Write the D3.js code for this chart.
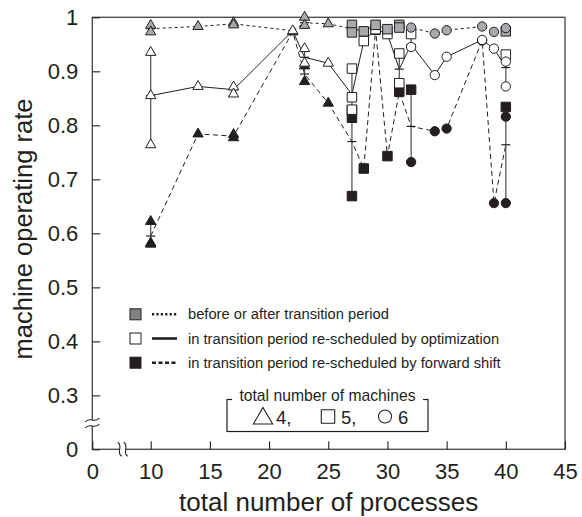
<!DOCTYPE html>
<html>
<head>
<meta charset="utf-8">
<script src="https://cdn.jsdelivr.net/npm/d3@7"></script>
<style>
  body { margin: 0; background: #fff; }
  text { font-family: "Liberation Sans", Arial, sans-serif; fill: #231f20; }
</style>
</head>
<body>
<svg id="chart" width="582" height="517"></svg>
<script>
const xTicks = [0, 10, 15, 20, 25, 30, 35, 40, 45];
const yTicks = [0, 0.3, 0.4, 0.5, 0.6, 0.7, 0.8, 0.9, 1];

// points: [processes, machines, rate]; means: [processes, rate]
const beforeAfterPoints = [
  [10, 4, 0.985], [10, 4, 0.973], [14, 4, 0.983], [17, 4, 0.99], [17, 4, 0.986],
  [23, 4, 1.0], [23, 4, 0.985], [25, 4, 0.988],
  [27, 5, 0.986], [27, 5, 0.972], [28, 5, 0.974], [29, 5, 0.986], [30, 5, 0.978],
  [31, 5, 0.986], [31, 5, 0.981], [40, 5, 0.974],
  [32, 6, 0.981], [34, 6, 0.97], [35, 6, 0.976], [38, 6, 0.983], [39, 6, 0.973], [40, 6, 0.98]
];
const beforeAfterMeans = [
  [10, 0.979], [14, 0.983], [17, 0.988], [22, 0.975], [23, 0.99], [25, 0.988],
  [27, 0.979], [28, 0.974], [29, 0.986], [30, 0.978], [31, 0.983], [32, 0.981],
  [34, 0.97], [35, 0.976], [38, 0.983], [39, 0.973], [40, 0.977]
];

const optimizationPoints = [
  [10, 4, 0.935], [10, 4, 0.855], [10, 4, 0.764], [14, 4, 0.872], [17, 4, 0.871], [17, 4, 0.858],
  [22, 4, 0.975], [23, 4, 0.942], [23, 4, 0.915], [25, 4, 0.915],
  [27, 5, 0.905], [27, 5, 0.852], [27, 5, 0.829], [28, 5, 0.956], [29, 5, 0.978], [30, 5, 0.969],
  [31, 5, 0.933], [31, 5, 0.878], [32, 5, 0.969], [40, 5, 0.931],
  [32, 6, 0.945], [34, 6, 0.893], [35, 6, 0.927], [38, 6, 0.958], [39, 6, 0.942],
  [40, 6, 0.918], [40, 6, 0.872]
];
const optimizationMeans = [
  [10, 0.855], [14, 0.872], [17, 0.866], [22, 0.975], [23, 0.926], [25, 0.915],
  [27, 0.857], [28, 0.956], [29, 0.978], [30, 0.969], [31, 0.904], [32, 0.95],
  [34, 0.893], [35, 0.927], [38, 0.958], [39, 0.942], [40, 0.907]
];

const forwardShiftPoints = [
  [10, 4, 0.622], [10, 4, 0.582], [10, 4, 0.58], [14, 4, 0.784], [17, 4, 0.783], [17, 4, 0.777],
  [22, 4, 0.973], [23, 4, 0.91], [23, 4, 0.881], [25, 4, 0.841],
  [27, 5, 0.828], [27, 5, 0.814], [27, 5, 0.669], [28, 5, 0.72], [29, 5, 0.977], [30, 5, 0.743],
  [31, 5, 0.862], [32, 5, 0.866], [40, 5, 0.834],
  [32, 6, 0.732], [34, 6, 0.789], [35, 6, 0.794], [38, 6, 0.957], [39, 6, 0.656],
  [40, 6, 0.816], [40, 6, 0.656]
];
const forwardShiftMeans = [
  [10, 0.595], [14, 0.784], [17, 0.78], [22, 0.973], [23, 0.895], [25, 0.841],
  [27, 0.77], [28, 0.72], [29, 0.977], [30, 0.743], [31, 0.862], [32, 0.798],
  [34, 0.789], [35, 0.794], [38, 0.957], [39, 0.656], [40, 0.764]
];

const methodLabels = [
  'before or after transition period',
  'in transition period re-scheduled by optimization',
  'in transition period re-scheduled by forward shift'
];
const machineTitle = 'total number of machines';
const machineCounts = [4, 5, 6];
const machineLabels = ['4,', '5,', '6'];

const svg = d3.select('#chart');
const x = d3.scaleLinear().domain([0, 10, 45]).range([92.3, 150.7, 565]);
const y = d3.scaleLinear().domain([0, 0.25, 1]).range([449.3, 422.4, 17.3]);

const shapeOf = { 4: d3.symbolTriangle, 5: d3.symbolSquare, 6: d3.symbolCircle };
const sizeOf = { 4: 46, 5: 90, 6: 68 };

// methods drawn bottom to top: forward shift, optimization, before/after
const methods = [
  { points: forwardShiftPoints, means: forwardShiftMeans, fill: '#231f20', dash: '5,3.5', legendDash: '4,2.5' },
  { points: optimizationPoints, means: optimizationMeans, fill: '#fff', dash: null, legendDash: null },
  { points: beforeAfterPoints, means: beforeAfterMeans, fill: '#a7a9ac', dash: '3,3', legendDash: '2.2,2.2' }
];

// frame
svg.append('rect')
  .attr('x', x(0)).attr('y', y(1))
  .attr('width', x(45) - x(0)).attr('height', y(0) - y(1))
  .attr('fill', 'none').attr('stroke', '#444').attr('stroke-width', 1.3);

// axes
const xAxis = svg.append('g')
  .attr('transform', 'translate(0,' + y(0) + ')')
  .call(d3.axisBottom(x).tickValues(xTicks).tickSizeInner(-8).tickSizeOuter(0).tickPadding(14));
const yAxis = svg.append('g')
  .attr('transform', 'translate(' + x(0) + ',0)')
  .call(d3.axisLeft(y).tickValues(yTicks).tickSizeInner(-8).tickSizeOuter(0).tickPadding(14)
    .tickFormat(d => (d === 0 || d === 1) ? String(d) : d.toFixed(1)));
[xAxis, yAxis].forEach(g => {
  g.select('.domain').remove();
  g.selectAll('line').attr('stroke', '#231f20').attr('stroke-width', 1.1);
  g.selectAll('text').style('font-size', '22px').attr('fill', '#231f20');
});

// axis breaks
const xb = x(5.2), yb = y(0.245);
svg.append('rect').attr('x', xb - 3).attr('y', y(0) - 3).attr('width', 6).attr('height', 6).attr('fill', '#fff');
svg.append('rect').attr('x', x(0) - 3).attr('y', yb - 3).attr('width', 6).attr('height', 6).attr('fill', '#fff');
[-3, 3].forEach(o => {
  const cx = xb + o, cy = y(0);
  svg.append('path')
    .attr('d', `M${cx - 2},${cy - 7} C${cx + 4},${cy - 3} ${cx - 4},${cy + 3} ${cx + 2},${cy + 7}`)
    .attr('fill', 'none').attr('stroke', '#231f20').attr('stroke-width', 1.1);
  const ry = yb + o, rx = x(0);
  svg.append('path')
    .attr('d', `M${rx + 7},${ry - 2} C${rx + 3},${ry + 4} ${rx - 3},${ry - 4} ${rx - 7},${ry + 2}`)
    .attr('fill', 'none').attr('stroke', '#231f20').attr('stroke-width', 1.1);
});

// axis titles
svg.append('text')
  .attr('x', (x(0) + x(45)) / 2).attr('y', 511)
  .attr('text-anchor', 'middle').style('font-size', '26px')
  .text('total number of processes');
svg.append('text')
  .attr('transform', 'translate(32,229) rotate(-90)')
  .attr('text-anchor', 'middle').style('font-size', '25.5px')
  .text('machine operating rate');

// mean lines
const line = d3.line().x(d => x(d[0])).y(d => y(d[1]));
methods.forEach(m => {
  svg.append('path')
    .datum(m.means)
    .attr('d', line)
    .attr('fill', 'none').attr('stroke', '#231f20').attr('stroke-width', 1)
    .attr('stroke-dasharray', m.dash);
});

// range lines and mean ticks
methods.forEach(m => {
  const groups = d3.groups(m.points, d => d[0]).filter(g => g[1].length > 1);
  groups.forEach(([px, pts]) => {
    const ext = d3.extent(pts, d => d[2]);
    svg.append('line')
      .attr('x1', x(px)).attr('x2', x(px))
      .attr('y1', y(ext[0])).attr('y2', y(ext[1]))
      .attr('stroke', '#4d4d4f').attr('stroke-width', 1.2);
    const mean = m.means.find(d => d[0] === px);
    svg.append('line')
      .attr('x1', x(px) - 4.5).attr('x2', x(px) + 4.5)
      .attr('y1', y(mean[1])).attr('y2', y(mean[1]))
      .attr('stroke', '#231f20').attr('stroke-width', 1.2);
  });
});

// markers
methods.forEach(m => {
  svg.append('g').selectAll('path')
    .data(m.points)
    .enter()
    .append('path')
    .attr('transform', d => 'translate(' + x(d[0]) + ',' + y(d[2]) + ')')
    .attr('d', d => d3.symbol().type(shapeOf[d[1]]).size(sizeOf[d[1]])())
    .attr('fill', m.fill)
    .attr('stroke', '#231f20').attr('stroke-width', 1);
});

// method legend
const legendFill = ['#808285', '#fff', '#231f20'];
const legendOrder = [2, 1, 0];
methodLabels.forEach((label, i) => {
  const m = methods[legendOrder[i]];
  const cy = 314.3 + i * 24.2;
  svg.append('rect')
    .attr('x', 130).attr('y', cy - 5.5).attr('width', 11).attr('height', 11)
    .attr('fill', legendFill[i]).attr('stroke', '#231f20').attr('stroke-width', 1);
  svg.append('line')
    .attr('x1', 152).attr('x2', 177).attr('y1', cy).attr('y2', cy)
    .attr('stroke', '#231f20').attr('stroke-width', 2.6)
    .attr('stroke-dasharray', m.legendDash);
  svg.append('text')
    .attr('x', 188).attr('y', cy + 5)
    .style('font-size', '14.7px')
    .text(label);
});

// machines legend
svg.append('rect')
  .attr('x', 227).attr('y', 399.5).attr('width', 201).attr('height', 32)
  .attr('fill', 'none').attr('stroke', '#231f20').attr('stroke-width', 1.2);
svg.append('rect')
  .attr('x', 232).attr('y', 390).attr('width', 191).attr('height', 16).attr('fill', '#fff');
svg.append('text')
  .attr('x', 327.5).attr('y', 400.5)
  .attr('text-anchor', 'middle').style('font-size', '15.7px')
  .text(machineTitle);
const keyX = [263, 328, 385];
const keySize = { 4: 160, 5: 180, 6: 135 };
machineCounts.forEach((c, i) => {
  svg.append('path')
    .attr('transform', 'translate(' + keyX[i] + ',' + (c === 4 ? 418.5 : 416.5) + ')')
    .attr('d', d3.symbol().type(shapeOf[c]).size(keySize[c])())
    .attr('fill', '#fff').attr('stroke', '#231f20').attr('stroke-width', 1.1);
  svg.append('text')
    .attr('x', keyX[i] + 13).attr('y', 423.5)
    .style('font-size', '18.5px')
    .text(machineLabels[i]);
});
</script>
</body>
</html>
